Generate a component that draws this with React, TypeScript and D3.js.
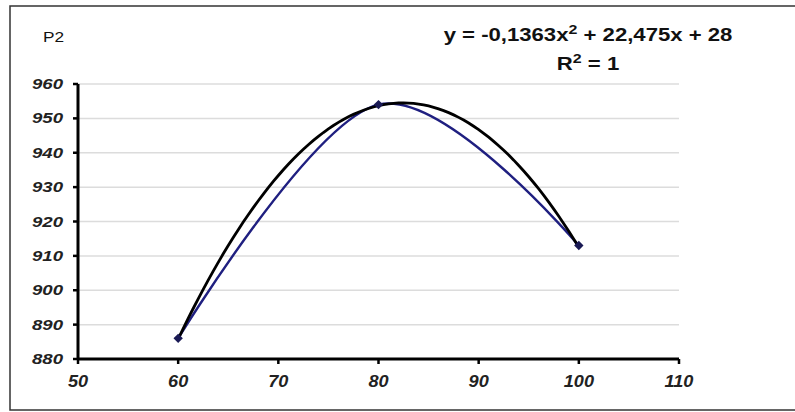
import React from 'react';
import * as d3 from 'd3';

// data
const xValues = [60, 80, 100];
const p2Values = [886, 954, 913];
// polynomial trendline coefficients (a x^2 + b x + c), from the label
const trendCoef = [-0.1363, 22.475, 28];
const xTicks = [50, 60, 70, 80, 90, 100, 110];
const yTicks = [880, 890, 900, 910, 920, 930, 940, 950, 960];

const W = 795;
const H = 412;
const margin = { top: 84, right: 116, bottom: 53, left: 78 };
const FONT = 'Liberation Sans, Arial, sans-serif';

const App = () => {
  const x = d3.scaleLinear().domain([50, 110]).range([margin.left, W - margin.right]);
  const y = d3.scaleLinear().domain([880, 960]).range([H - margin.bottom, margin.top]);

  const pts = xValues.map((v, i) => [v, p2Values[i]] as [number, number]);

  const line = d3
    .line<[number, number]>()
    .x(d => x(d[0]))
    .y(d => y(d[1]))
    .curve(d3.curveCardinal.tension(0));

  const trend = d3
    .line<number>()
    .x(d => x(d))
    .y(d => y(trendCoef[0] * d * d + trendCoef[1] * d + trendCoef[2]));
  const trendX = d3.range(60, 100.01, 0.5);

  const marker = d3.symbol().type(d3.symbolSquare).size(44)();
  const x0 = x(50);
  const x1 = x(110);
  const yBase = y(880);
  const yTop = y(960);

  return (
    <div style={{ position: 'fixed', left: 0, top: 0 }}>
      <svg width={W} height={H} style={{ display: 'block', background: '#fff' }}>
        <rect x={10} y={6} width={800} height={404} fill="#fff" stroke="#333" strokeWidth={1.5} />

        {/* gridlines */}
        {yTicks.slice(1).map(t => (
          <line key={t} x1={x0} x2={x1} y1={y(t)} y2={y(t)} stroke="#dcdcdc" strokeWidth={1.5} />
        ))}

        {/* axes */}
        <line x1={x0} x2={x0} y1={yTop} y2={yBase} stroke="#000" strokeWidth={3} />
        <line x1={x0} x2={x1} y1={yBase} y2={yBase} stroke="#000" strokeWidth={3} />
        {yTicks.map(t => (
          <g key={t}>
            <line x1={x0 - 5} x2={x0} y1={y(t)} y2={y(t)} stroke="#000" strokeWidth={2.5} />
            <text
              transform={`translate(${x0 - 15},${y(t)}) scale(1.33,1)`}
              dy="0.36em"
              textAnchor="end"
              fontFamily={FONT}
              fontWeight="bold"
              fontStyle="italic"
              fontSize={14}
              fill="#222"
            >
              {t}
            </text>
          </g>
        ))}
        {xTicks.map(t => (
          <g key={t}>
            <line x1={x(t)} x2={x(t)} y1={yBase} y2={yBase + 5} stroke="#000" strokeWidth={2.5} />
            <text
              transform={`translate(${x(t)},${yBase + 22}) scale(1.1,1)`}
              dy="0.36em"
              textAnchor="middle"
              fontFamily={FONT}
              fontWeight="bold"
              fontStyle="italic"
              fontSize={16.5}
              fill="#222"
            >
              {t}
            </text>
          </g>
        ))}

        {/* series */}
        <path d={line(pts) ?? ''} fill="none" stroke="#1f1f80" strokeWidth={2.4} />
        <path d={trend(trendX) ?? ''} fill="none" stroke="#000" strokeWidth={2.8} />
        {pts.map((d, i) => (
          <path
            key={i}
            d={marker ?? ''}
            transform={`translate(${x(d[0])},${y(d[1])}) rotate(45)`}
            fill="#1a1a55"
          />
        ))}

        {/* labels */}
        <text
          transform="translate(43,37) scale(1.15,1)"
          dy="0.36em"
          fontFamily={FONT}
          fontSize={15}
          fill="#111"
        >
          P2
        </text>
        <text
          transform="translate(588,35) scale(1.23,1)"
          dy="0.36em"
          textAnchor="middle"
          fontFamily={FONT}
          fontWeight="bold"
          fontSize={18}
          fill="#111"
        >
          y = -0,1363x<tspan dy="-7" fontSize={13}>2</tspan>
          <tspan dy="7"> + 22,475x + 28</tspan>
        </text>
        <text
          transform="translate(588,64) scale(1.23,1)"
          dy="0.36em"
          textAnchor="middle"
          fontFamily={FONT}
          fontWeight="bold"
          fontSize={18}
          fill="#111"
        >
          R<tspan dy="-7" fontSize={13}>2</tspan>
          <tspan dy="7"> = 1</tspan>
        </text>
      </svg>
    </div>
  );
};

export default App;
